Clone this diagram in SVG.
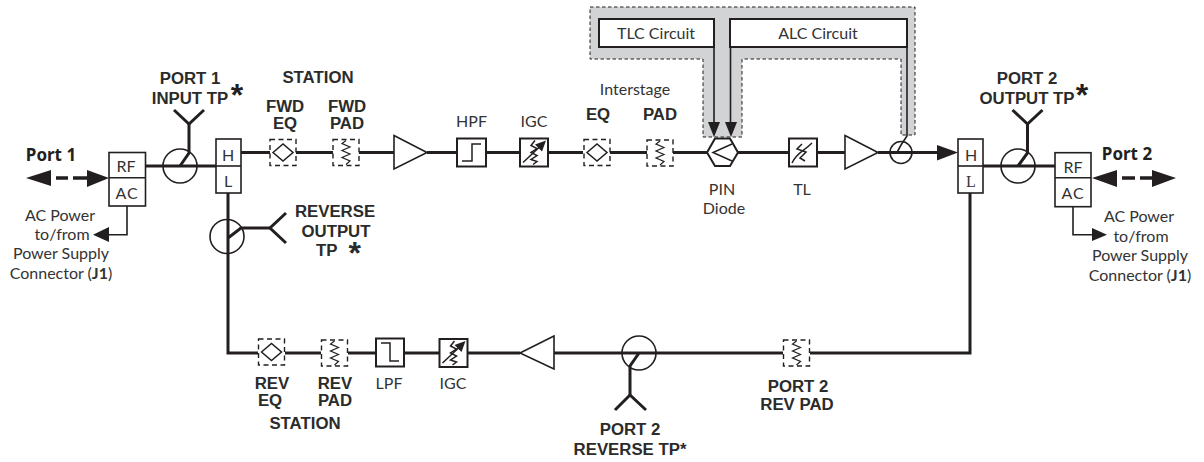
<svg xmlns="http://www.w3.org/2000/svg" width="1204" height="462" viewBox="0 0 1204 462">
<style>
text{font-family:"Lato","Open Sans",sans-serif;font-size:16px;fill:#333;text-anchor:middle}
text.b{font-family:"Liberation Sans",Arial,sans-serif;font-size:16.800px;font-weight:700;fill:#2b2b2b}
text.p{font-family:"Noto Sans",sans-serif;font-size:17px;font-weight:700;fill:#231f20}
text.s{font-family:"Liberation Sans",Arial,sans-serif;font-size:32px;font-weight:700;fill:#231f20}
.w{fill:none;stroke:#231f20;stroke-width:3}
.t{fill:none;stroke:#231f20;stroke-width:1.6}
.box{fill:#fff;stroke:#231f20;stroke-width:1.6}
.hv{fill:#fff;stroke:#231f20;stroke-width:2}
.dash{fill:#fff;stroke:#231f20;stroke-width:1.400;stroke-dasharray:5 3.500}
.ic{fill:none;stroke:#231f20;stroke-width:1.500}
.z{fill:none;stroke:#231f20;stroke-width:1.200}
.k{fill:#231f20}
</style>
<defs>
<g id="eq"><rect class="dash" x="-13" y="-13" width="26" height="26"/><path class="ic" d="M-10 0L0-8.500L10 0L0 8.500Z"/></g>
<g id="pad"><rect class="dash" x="-13" y="-13" width="26" height="26"/><path class="z" d="M0-12L-4-9L4-5.500L-4-2L4 1.500L-4 5L4 8.500L0 12"/></g>
<g id="igc"><rect class="hv" x="-14" y="-14" width="28" height="28"/><path class="ic" d="M1-12L-3-7L3-4L-3 0L3 3L-3 7L3 9L-1 12"/><path class="ic" d="M-11 10L5-5"/><path class="k" d="M12-12L1-8L8-1Z"/></g>
<path id="y" class="w" d="M-15-14L0 0L15-14"/>
</defs>
<g id="connectors">
<path class="w" d="M145 166H216M983 166H1055M241 152.500H394M427 152.500H457M486 152.500H520M548 152.500H583M610 152.500H647M673 152.500H707M738 152.500H789M817 152.500H845M878 152.500H940"/>
<path class="w" d="M228 193V353H258M285 353H321M348 353H376M404 353H439M468 353H520M554 353H783M810 353H970V193"/>
<path class="t" d="M127 206V234.700H109M1073 206V234.700H1095"/>
<path class="k" d="M109 227L93 234.700L109 242ZM1092 228V241L1107 234.700Z"/>
</g>
<g id="agc-panel">
<path d="M590 7H915V135H901V59H742V137H703V59H590Z" fill="#d1d3d4" stroke="#231f20" stroke-width="1" stroke-dasharray="3.500 2.500"/>
</g>
<g id="tlc-circuit"><rect class="hv" x="599" y="19" width="115" height="28"/><text x="656" y="39">TLC Circuit</text></g>
<g id="alc-circuit"><rect class="hv" x="730" y="19" width="177" height="28"/><text x="818" y="39">ALC Circuit</text></g>
<g id="feedback">
<path class="t" d="M714 47V124M730.500 47V124M907 47V136L901 145L897 152.500"/>
<path class="k" d="M708 122H720L714 137ZM725 122H737L731 137Z"/>
</g>
<g id="port1">
<text class="p" x="51" y="161">Port 1</text>
<path class="k" d="M26 178L51 170V186ZM87 170V187L109 178Z"/>
<path class="w" style="stroke-width:3.500" d="M56 178H68M73 178H87"/>
<rect class="box" x="109" y="152.500" width="36.500" height="53.500"/><path class="t" d="M109 177.700H145.500"/>
<text x="126" y="172">RF</text><text x="127" y="199" style="letter-spacing:1px">AC</text>
<text x="60" y="221">AC Power</text><text x="62" y="240">to/from</text><text x="61" y="259">Power Supply</text><text x="61" y="279">Connector (<tspan font-weight="700">J1</tspan>)</text>
</g>
<g id="port-1-input-tp">
<circle class="t" cx="180" cy="166" r="17"/><use href="#y" x="189" y="124"/><path class="w" d="M189 124V153L180 166"/>
<text class="b" x="190" y="84">PORT 1</text><text class="b" x="190" y="104">INPUT TP</text><text class="s" x="237" y="106">*</text>
</g>
<g id="hl1"><rect class="box" x="216" y="139" width="25" height="54"/><path class="t" d="M216 166H241"/><text x="228" y="161">H</text><text x="228" y="187">L</text></g>
<g id="reverse-output-tp">
<circle class="t" cx="227" cy="236.500" r="17"/><path class="w" d="M228 238L241 228H270"/><path class="w" d="M286 213L270 228L286 243"/>
<text class="b" x="335" y="217">REVERSE</text><text class="b" x="336" y="237">OUTPUT</text><text class="b" x="316" y="256" style="text-anchor:start">TP<tspan dx="11" dy="8" style="font-size:32px">*</tspan></text>
</g>
<g id="station-fwd">
<text class="b" x="318" y="83">STATION</text><text class="b" x="285" y="112">FWD</text><text class="b" x="285" y="129">EQ</text><text class="b" x="347" y="112">FWD</text><text class="b" x="347" y="129">PAD</text>
</g>
<g id="fwd-eq"><use href="#eq" x="283" y="152.500"/></g>
<g id="fwd-pad"><use href="#pad" x="346" y="152.500"/></g>
<g id="amp1"><path class="box" d="M394 135.500L427 152.500L394 169Z"/></g>
<g id="hpf"><rect class="hv" x="457" y="138.500" width="29" height="28"/><path class="ic" d="M462 161H472V144H481"/><text x="471.500" y="127">HPF</text></g>
<g id="igc1"><use href="#igc" x="534" y="152.500"/><text x="534" y="127">IGC</text></g>
<g id="int-eq"><use href="#eq" x="597" y="152.500"/><text class="b" x="598" y="120">EQ</text></g>
<g id="int-pad"><use href="#pad" x="660" y="153"/><text class="b" x="660" y="120">PAD</text></g>
<text x="635" y="95">Interstage</text>
<g id="pin-diode"><path class="hv" d="M707 152.500L715 138.500H730L738 152.500L730 166H715Z"/><path class="ic" d="M732 144L713 152.500L732 161"/><text x="722" y="195">PIN</text><text x="724" y="214">Diode</text></g>
<g id="tl"><rect class="hv" x="789" y="138.500" width="28" height="28"/><path class="ic" d="M792 163C797 152 803 152 812 143M802 144L797 149L806 152L800 158L805 161"/><text x="802" y="195">TL</text></g>
<g id="amp2"><path class="box" d="M845 135.500L878 152.500L845 169Z"/></g>
<g id="coupler"><circle class="t" cx="901" cy="152.500" r="11"/></g>
<g id="arrow-h"><path class="k" d="M937 145V160.500L958 152.500Z"/></g>
<g id="hl2"><rect class="box" x="958" y="139" width="25" height="54"/><path class="t" d="M958 166H983"/><text x="971" y="161">H</text><text x="971" y="187" style="font-family:'Liberation Serif',serif">L</text></g>
<g id="port-2-output-tp">
<circle class="t" cx="1018" cy="166" r="17"/><use href="#y" x="1027.500" y="124"/><path class="w" d="M1027.500 124V153L1018 166"/>
<text class="b" x="1027" y="84">PORT 2</text><text class="b" x="1027" y="104">OUTPUT TP</text><text class="s" x="1082" y="106">*</text>
</g>
<g id="port2">
<rect class="box" x="1055" y="152.700" width="36" height="54"/><path class="t" d="M1055 177.700H1091"/>
<text x="1073" y="173">RF</text><text x="1073" y="199" style="letter-spacing:1px">AC</text>
<text class="p" x="1127" y="160">Port 2</text>
<path class="k" d="M1092 178L1117 170V187ZM1152 170V187L1176 178Z"/>
<path class="w" style="stroke-width:3.500" d="M1122 178H1135M1140 178H1152"/>
<text x="1139" y="222">AC Power</text><text x="1141" y="242">to/from</text><text x="1140" y="261">Power Supply</text><text x="1140" y="281">Connector (<tspan font-weight="700">J1</tspan>)</text>
</g>
<g id="rev-eq"><use href="#eq" x="271.500" y="352"/><text class="b" x="272" y="389">REV</text><text class="b" x="270" y="406">EQ</text></g>
<g id="rev-pad"><use href="#pad" x="334.500" y="353"/><text class="b" x="335" y="389">REV</text><text class="b" x="335" y="406">PAD</text></g>
<text class="b" x="305" y="429">STATION</text>
<g id="lpf"><rect class="hv" x="376" y="338.500" width="28" height="28"/><path class="ic" d="M381 343H390V361H399"/><text x="389" y="389">LPF</text></g>
<g id="igc2"><use href="#igc" x="453.500" y="353"/><text x="453" y="389">IGC</text></g>
<g id="amp3"><path class="box" d="M554 336L520 353L554 369Z"/></g>
<g id="port-2-reverse-tp">
<circle class="t" cx="639" cy="353" r="17"/><path class="w" d="M639 353L630 366V395"/><path class="w" d="M615 410L630 395L646 410"/>
<text class="b" x="630" y="435">PORT 2</text><text class="b" x="630" y="455">REVERSE TP*</text>
</g>
<g id="port-2-rev-pad"><use href="#pad" x="796.500" y="353"/><text class="b" x="798" y="392">PORT 2</text><text class="b" x="797" y="410">REV PAD</text></g>
</svg>
